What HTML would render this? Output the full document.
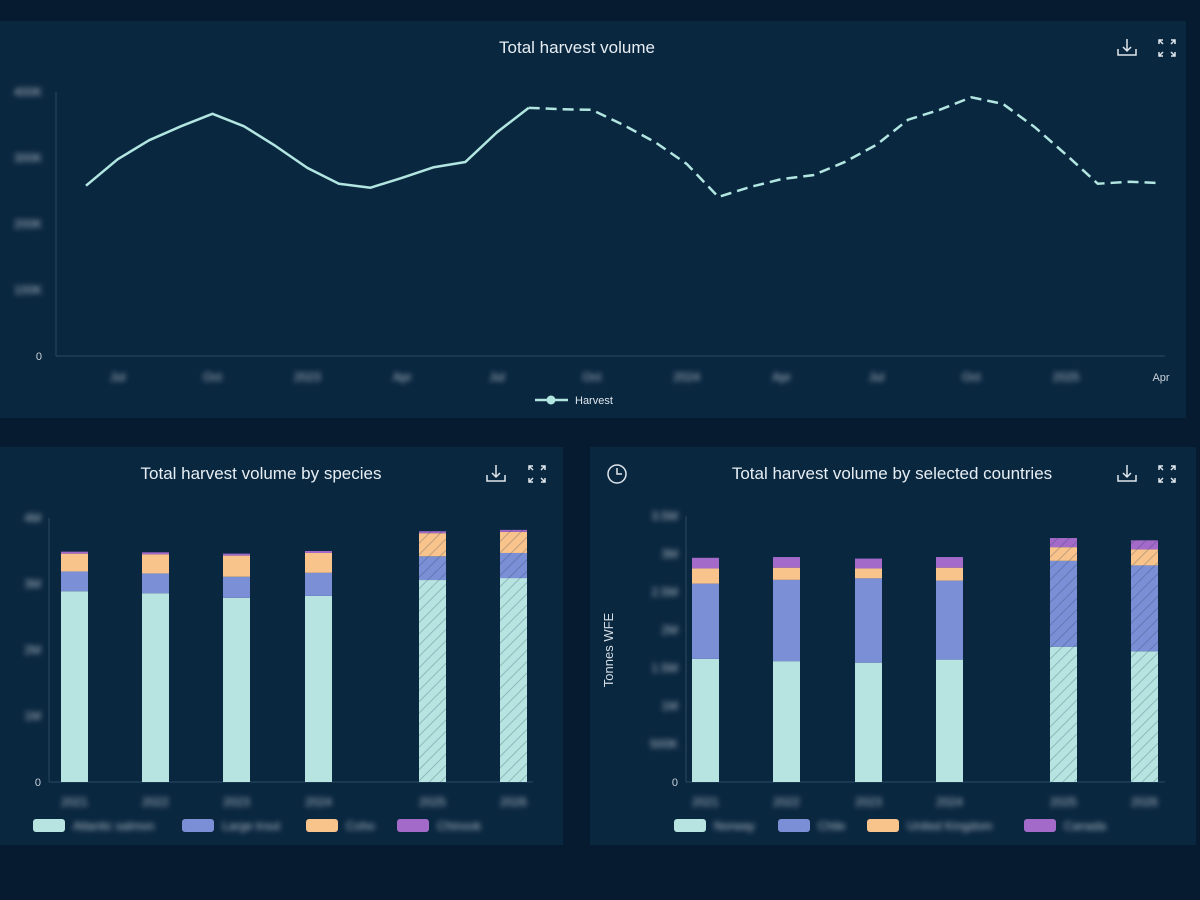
<!DOCTYPE html>
<html><head><meta charset="utf-8">
<style>
html,body{margin:0;padding:0;background:#061b2f;width:1200px;height:900px;overflow:hidden;font-family:"Liberation Sans",sans-serif;}
svg{display:block}
.t{fill:#e6eef3;font-size:17px;font-weight:500;}
.tk{fill:#c9d3da;font-size:11px;}
.bl{filter:blur(2.6px);fill:#b4bec6;font-size:12px;}
</style></head>
<body>
<svg id="root" width="1200" height="900" viewBox="0 0 1200 900">
<defs>
<pattern id="hatch" width="8" height="8" patternUnits="userSpaceOnUse" patternTransform="rotate(45)">
<line x1="0" y1="0" x2="0" y2="8" stroke="rgba(20,50,80,0.25)" stroke-width="2"/>
</pattern>
</defs>
<rect x="0" y="21" width="1186" height="397" fill="#0a2740"/>
<rect x="0" y="447" width="563" height="398" fill="#0a2740"/>
<rect x="590" y="447" width="606" height="398" fill="#0a2740"/>

<text class="t" x="577" y="53" text-anchor="middle">Total harvest volume</text>
<text class="t" x="261" y="479" text-anchor="middle">Total harvest volume by species</text>
<text class="t" x="892" y="479" text-anchor="middle">Total harvest volume by selected countries</text>

<g id="icons" stroke="#dfe7ec" stroke-width="1.5" fill="none"></g>
<g id="topChart"></g><g id="left"></g><g id="right"></g>
<text x="613" y="650" transform="rotate(-90 613 650)" text-anchor="middle" fill="#d7dfe5" font-size="13">Tonnes WFE</text>
</svg>
<script>
const NS='http://www.w3.org/2000/svg';
function mk(p,tag,a,txt){const e=document.createElementNS(NS,tag);for(const k in a)e.setAttribute(k,a[k]);if(txt!=null)e.textContent=txt;p.appendChild(e);return e;}

// ---------- TOP LINE CHART DATA ----------
const months=['Jun','Jul','Aug','Sep','Oct','Nov','Dec','Jan','Feb','Mar','Apr','May','Jun','Jul','Aug','Sep','Oct','Nov','Dec','Jan','Feb','Mar','Apr','May','Jun','Jul','Aug','Sep','Oct','Nov','Dec','Jan','Feb','Mar','Apr'];
const harvest=[258,298,327,348,367,348,318,285,261,255,270,286,294,339,376,374,373,350,324,291,241,256,268,274,294,320,358,373,392,382,347,305,261,264,262];
const forecastStart=14;
const topTicks=[0,100,200,300,400];
const topTickLabels=['0','100K','200K','300K','400K'];
const topXLabels=['Jul','Oct','2023','Apr','Jul','Oct','2024','Apr','Jul','Oct','2025','Apr'];
const topXIdx=[1,4,7,10,13,16,19,22,25,28,31,34];

const topG=document.getElementById('topChart');
const tx=i=>86+i*(1161-86)/(months.length-1);
const ty=v=>356-v*264/400;
mk(topG,'line',{x1:56,y1:92,x2:56,y2:356,stroke:'#2b4a63','stroke-width':1});
mk(topG,'line',{x1:56,y1:356,x2:1165,y2:356,stroke:'#2b4a63','stroke-width':1});
topTicks.forEach((t,i)=>{const e=mk(topG,'text',{x:42,y:ty(t)+4,'text-anchor':'end',class:'tk'+(i?' bl':'')},topTickLabels[i]);

});
topXIdx.forEach((ix,i)=>{const e=mk(topG,'text',{x:tx(ix),y:381,'text-anchor':'middle',class:'tk'+(i==topXIdx.length-1?'':' bl')},topXLabels[i]);

});
let d1='',d2='';
harvest.forEach((v,i)=>{if(i<=forecastStart)d1+=(i?'L':'M')+tx(i)+' '+ty(v);if(i>=forecastStart)d2+=(i>forecastStart?'L':'M')+tx(i)+' '+ty(v);});
const l1=mk(topG,'path',{d:d1,fill:'none',stroke:'#b2e6e1','stroke-width':2.5,'stroke-linejoin':'round'});


const l2=mk(topG,'path',{d:d2,fill:'none',stroke:'#b2e6e1','stroke-width':2.5,'stroke-dasharray':'11 6'});


const lg0=mk(topG,'g',{});


mk(lg0,'line',{x1:535,y1:400,x2:568,y2:400,stroke:'#b2e6e1','stroke-width':2.5});
mk(lg0,'circle',{cx:551,cy:400,r:4.5,fill:'#b2e6e1'});
mk(lg0,'text',{x:575,y:404,fill:'#dfe7ec','font-size':11},'Harvest');

// ---------- SPECIES STACKED BARS ----------
const years=['2021','2022','2023','2024','2025','2026'];
const spAtlantic=[2.89,2.86,2.79,2.82,3.06,3.09];
const spLarge=[0.30,0.30,0.32,0.35,0.36,0.38];
const spCoho=[0.27,0.29,0.32,0.30,0.35,0.32];
const spChinook=[0.03,0.03,0.03,0.03,0.03,0.03];
const spTicks=[0,1,2,3,4];
const spTickLabels=['0','1M','2M','3M','4M'];
const spNames=['Atlantic salmon','Large trout','Coho','Chinook'];

// ---------- COUNTRY STACKED BARS ----------
const coNorway=[1.62,1.59,1.57,1.61,1.78,1.72];
const coChile=[0.99,1.07,1.11,1.04,1.13,1.13];
const coUK=[0.20,0.16,0.13,0.17,0.18,0.21];
const coCanada=[0.14,0.14,0.13,0.14,0.12,0.12];
const coTicks=[0,0.5,1,1.5,2,2.5,3,3.5];
const coTickLabels=['0','500K','1M','1.5M','2M','2.5M','3M','3.5M'];
const coNames=['Norway','Chile','United Kingdom','Canada'];

const colors=['#b7e4e0','#7b8fd6','#f9c38c','#a46ac9'];
const forecast=[false,false,false,false,true,true];

function stacked(g,cfg){
 const {x0,x1,y0,ytop,max,ticks,tickLabels,series,names,barX,bw,legendX,prefix}=cfg;
 const y=v=>y0-v*(y0-ytop)/max;
 mk(g,'line',{x1:x0,y1:ytop,x2:x0,y2:y0,stroke:'#2b4a63'});
 mk(g,'line',{x1:x0,y1:y0,x2:x1,y2:y0,stroke:'#2b4a63'});
 ticks.forEach((t,i)=>{const e=mk(g,'text',{x:x0-8,y:y(t)+4,'text-anchor':'end',class:'tk'+(i?' bl':'')},tickLabels[i]);
 
 });
 years.forEach((yr,j)=>{
  let acc=0;
  series.forEach((s,k)=>{
   const yb=y(acc),yt=y(acc+s[j]);acc+=s[j];
   const r=mk(g,'rect',{x:barX[j],y:yt,width:bw,height:yb-yt,fill:colors[k]});
   
   
   if(forecast[j])mk(g,'rect',{x:barX[j],y:yt,width:bw,height:yb-yt,fill:'url(#hatch)'});
  });
  const e=mk(g,'text',{x:barX[j]+bw/2,y:806,'text-anchor':'middle',class:'tk bl'},yr);
  
  
 });
 names.forEach((n,k)=>{
  const lg=mk(g,'g',{});
  
  
  mk(lg,'rect',{x:legendX[k],y:819,width:32,height:13,rx:3,fill:colors[k]});
  mk(lg,'text',{x:legendX[k]+40,y:830,class:'bl'},n);
 });
}
stacked(document.getElementById('left'),{x0:49,x1:533,y0:782,ytop:518,max:4,ticks:spTicks,tickLabels:spTickLabels,
 series:[spAtlantic,spLarge,spCoho,spChinook],names:spNames,barX:[61,142,223,305,419,500],bw:27,legendX:[33,182,306,397],prefix:'species'});
stacked(document.getElementById('right'),{x0:686,x1:1165,y0:782,ytop:516,max:3.5,ticks:coTicks,tickLabels:coTickLabels,
 series:[coNorway,coChile,coUK,coCanada],names:coNames,barX:[692,773,855,936,1050,1131],bw:27,legendX:[674,778,867,1024],prefix:'country'});

// ---------- ICONS ----------
const ic=document.getElementById('icons');
function dl(x,y,nm){const g=mk(ic,'g',{});
 
 
 mk(g,'path',{d:`M${x} ${y-9}V${y+3}M${x-4} ${y-1}L${x} ${y+3}L${x+4} ${y-1}M${x-9} ${y+1}V${y+7}H${x+9}V${y+1}`});}
function ex(x,y,nm){const g=mk(ic,'g',{});
 
 
 mk(g,'path',{d:`M${x-8} ${y-4}V${y-8}H${x-4}M${x-8} ${y-8}L${x-4} ${y-4}M${x+8} ${y-4}V${y-8}H${x+4}M${x+8} ${y-8}L${x+4} ${y-4}M${x-8} ${y+4}V${y+8}H${x-4}M${x-8} ${y+8}L${x-4} ${y+4}M${x+8} ${y+4}V${y+8}H${x+4}M${x+8} ${y+8}L${x+4} ${y+4}`});}
dl(1127,48,'download-button');ex(1167,48,'expand-button');
dl(496,474,'species-download-button');ex(537,474,'species-expand-button');
dl(1127,474,'countries-download-button');ex(1167,474,'countries-expand-button');
const cl=mk(ic,'g',{});


mk(cl,'circle',{cx:617,cy:474,r:9});
mk(cl,'path',{d:'M617 468V474H622'});
</script>
</body></html>
